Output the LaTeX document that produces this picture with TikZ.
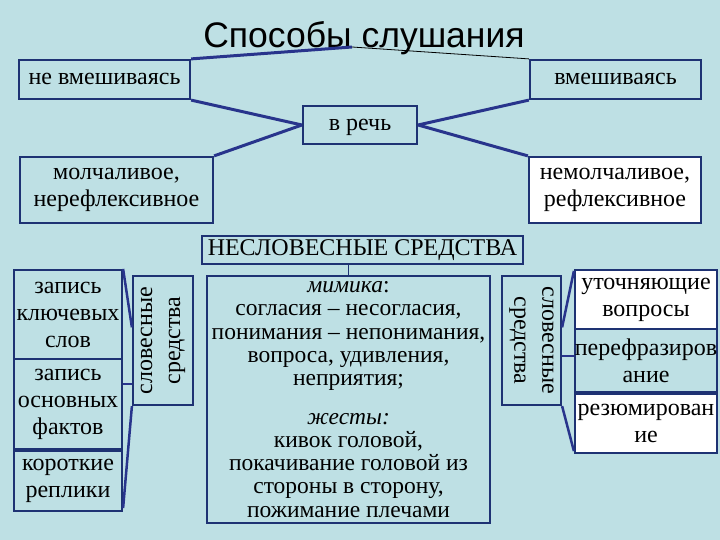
\documentclass[tikz,border=0pt]{standalone}
\usepackage{fontspec}
\setmainfont{Liberation Serif}
\newfontfamily\titlefont{Liberation Sans}
\usetikzlibrary{calc}
\definecolor{bg}{RGB}{190,224,228}
\definecolor{ln}{RGB}{40,52,140}
\definecolor{bd}{RGB}{30,50,115}
\begin{document}
\begin{tikzpicture}[x=1pt,y=-1pt,
  box/.style={draw=bd, line width=2.2pt, inner sep=0pt, align=center, font=\fontsize{24}{27}\selectfont},
  oneline/.style={text height=16pt, text depth=5pt},
  rtext/.style={inner sep=0pt, align=center, font=\fontsize{24}{28}\selectfont},
  conn/.style={draw=ln, line width=3pt},
  thinconn/.style={draw=black, line width=0.8pt}]
\fill[bg] (0,0) rectangle (720,540);
\useasboundingbox (0,0) rectangle (720,540);

\node[anchor=base, font=\titlefont\fontsize{35.5}{40}\selectfont] (title) at (364,48) {Способы слушания};

\node[box, oneline, minimum width=171, minimum height=39] (nev) at (104.5,79.5) {не вмешиваясь};
\node[box, oneline, minimum width=171, minimum height=39] (vm) at (615.5,79.5) {вмешиваясь};
\node[box, oneline, minimum width=114, minimum height=38] (rech) at (360,125) {в речь};
\node[box, minimum width=193, minimum height=66] (mol) at (116.5,190) {молчаливое,\\нерефлексивное};
\node[box, fill=white, minimum width=172, minimum height=66] (nemol) at (615,190) {немолчаливое,\\рефлексивное};
\node[box, minimum width=321, minimum height=28, font=\fontsize{24}{26}\selectfont] (nesl) at (362.5,250) {НЕСЛОВЕСНЫЕ СРЕДСТВА};
\node[box, minimum width=283, minimum height=247, font=\fontsize{23.5}{23.3}\selectfont] (mim) at (348.5,399.5)
 {\textit{мимика}:\\согласия – несогласия,\\понимания – непонимания,\\вопроса, удивления,\\неприятия;\\[15pt]\textit{жесты:}\\кивок головой,\\покачивание головой из\\стороны в сторону,\\пожимание плечами};

\node[box, minimum width=60, minimum height=129] (slovL) at (163,340.5) {};
\node[rtext, rotate=90] (slovLt) at (slovL.center) {словесные\\средства};
\node[box, minimum width=59, minimum height=129] (slovR) at (531.5,340.5) {};
\node[rtext, rotate=-90] (slovRt) at (slovR.center) {словесные\\средства};

\node[box, minimum width=108, minimum height=89] (zap1) at (68,314.5) {запись\\ключевых\\слов};
\node[box, minimum width=108, minimum height=90] (zap2) at (68,404) {запись\\основных\\фактов};
\node[box, minimum width=108, minimum height=60] (krat) at (68,481) {короткие\\реплики};

\node[box, fill=white, minimum width=142, minimum height=59] (ut) at (646,299.5) {уточняющие\\вопросы};
\node[box, minimum width=142, minimum height=63] (per) at (646,360.5) {перефразиров\\ание};
\node[box, fill=white, minimum width=142, minimum height=59] (rez) at (646,423.5) {резюмирован\\ие};

% connectors
\coordinate (tm) at (352,47);
\draw[conn] (nev.north east) -- (tm);
\draw[thinconn] (tm) -- (vm.north west);
\draw[conn] (nev.south east) -- (rech.west);
\draw[conn] (vm.south west) -- (rech.east);
\draw[conn] (rech.west) -- (mol.north east);
\draw[conn] (rech.east) -- (nemol.north west);
\coordinate (tk) at (mim.north);
\draw[draw=bd, line width=1pt] (tk |- nesl.south) -- (tk);

\coordinate (l1) at ($(slovL.north west)!0.4!(slovL.south west)$);
\coordinate (l2) at ($(slovL.north west)!0.83!(slovL.south west)$);
\draw[conn, line width=2.5pt] (zap1.north east) -- (l1);
\draw[conn, line width=2.5pt] (l2) -- (l2 -| zap2.east);
\draw[conn, line width=2.5pt] ($(krat.south east)+(0,-4)$) -- (slovL.south west);

\coordinate (r1) at ($(slovR.north east)!0.4!(slovR.south east)$);
\coordinate (r2) at ($(slovR.north east)!0.62!(slovR.south east)$);
\draw[conn, line width=2.5pt] (r1) -- ($(ut.north west)+(0,2)$);
\draw[conn, line width=2.5pt] (r2) -- (r2 -| per.west);
\draw[conn, line width=2.5pt] (slovR.south east) -- ($(rez.south west)+(0,-3)$);
\end{tikzpicture}
\end{document}
